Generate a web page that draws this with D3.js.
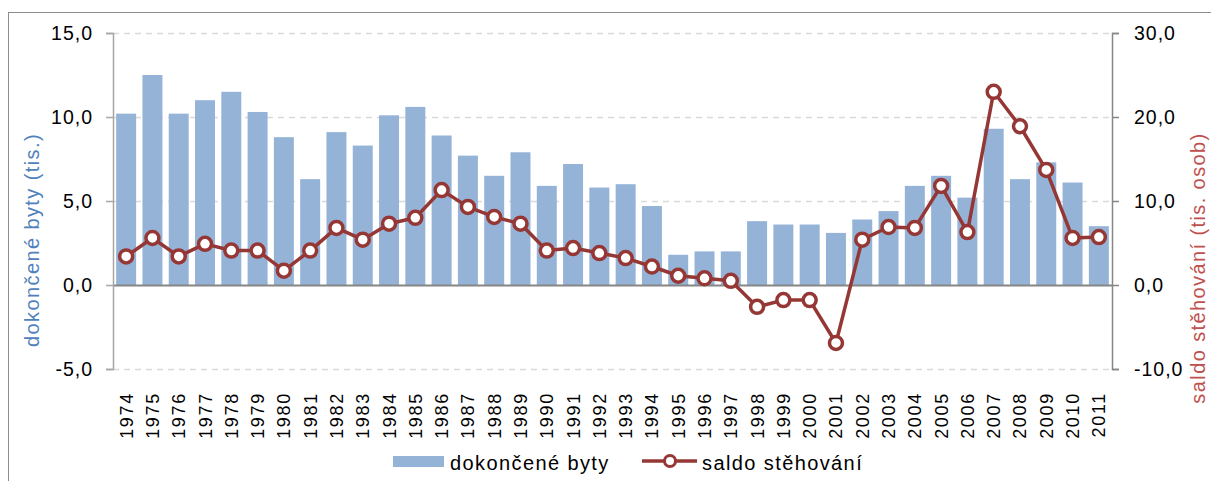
<!DOCTYPE html>
<html>
<head>
<meta charset="utf-8">
<script src="https://cdn.jsdelivr.net/npm/d3@7"></script>
<style>
  body { margin: 0; background: #fff; }
  svg { display: block; font-family: "Liberation Sans", Arial, sans-serif; }
</style>
</head>
<body>
<div id="chart"></div>
<script>
const years = d3.range(1974, 2012).map(String);
const dokonceneByty = [10.2, 12.5, 10.2, 11.0, 11.5, 10.3, 8.8, 6.3, 9.1, 8.3,
    10.1, 10.6, 8.9, 7.7, 6.5, 7.9, 5.9, 7.2, 5.8, 6.0,
    4.7, 1.8, 2.0, 2.0, 3.8, 3.6, 3.6, 3.1, 3.9, 4.4,
    5.9, 6.5, 5.2, 9.3, 6.3, 7.3, 6.1, 3.5];
const saldoStehovani = [3.4, 5.6, 3.4, 4.9, 4.1, 4.1, 1.7, 4.1, 6.8, 5.4,
    7.3, 8.0, 11.3, 9.3, 8.1, 7.3, 4.1, 4.4, 3.8, 3.2,
    2.2, 1.1, 0.8, 0.5, -2.6, -1.8, -1.8, -6.9, 5.4, 6.9,
    6.8, 11.8, 6.3, 23.0, 18.9, 13.7, 5.6, 5.7];
const leftTicks = [-5, 0, 5, 10, 15];
const rightTicks = [-10, 0, 10, 20, 30];

const width = 1211;
const height = 481;
const margin = { top: 33, bottom: 112, left: 113, right: 99 };
const fmt = v => d3.format('.1f')(v).replace('.', ',').replace('\u2212', '-');

const svg = d3.select('#chart')
    .append('svg')
    .attr('width', width)
    .attr('height', height);

// outer frame
svg.append('rect')
    .attr('x', 8.5).attr('y', 12.5)
    .attr('width', 1210).attr('height', 480)
    .attr('fill', 'none')
    .attr('stroke', '#8c8c8c');

const x = d3.scaleBand()
    .domain(years)
    .range([margin.left, width - margin.right])
    .paddingInner(0.24)
    .paddingOuter(0.12);

const y = d3.scaleLinear()
    .domain([-5, 15])
    .range([height - margin.bottom, margin.top]);

const y2 = d3.scaleLinear()
    .domain([-10, 30])
    .range([height - margin.bottom, margin.top]);

// gridlines
svg.append('g')
    .selectAll('line')
    .data(leftTicks.filter(d => d !== 0))
    .join('line')
    .attr('x1', margin.left)
    .attr('x2', width - margin.right)
    .attr('y1', d => Math.round(y(d)) + 0.5)
    .attr('y2', d => Math.round(y(d)) + 0.5)
    .attr('stroke', '#d9d9d9')
    .attr('stroke-width', 1.5)
    .attr('stroke-dasharray', '6,5');

// bars
svg.append('g')
    .attr('fill', '#95b3d7')
    .selectAll('rect')
    .data(dokonceneByty)
    .join('rect')
    .attr('x', (d, i) => x(years[i]))
    .attr('y', d => y(d))
    .attr('width', x.bandwidth())
    .attr('height', d => y(0) - y(d));

// zero line
svg.append('line')
    .attr('x1', margin.left)
    .attr('x2', width - margin.right)
    .attr('y1', Math.round(y(0)) + 0.5)
    .attr('y2', Math.round(y(0)) + 0.5)
    .attr('stroke', '#868686')
    .attr('stroke-width', 2);

// left axis
const yAxis = g => {
    g.attr('transform', `translate(${margin.left},0)`)
        .call(d3.axisLeft(y).tickValues(leftTicks).tickFormat(fmt).tickSize(7).tickPadding(13))
        .attr('font-size', '19.5px')
        .attr('font-family', '"Liberation Sans", Arial, sans-serif');
    g.selectAll('path, line').attr('stroke', '#a6a6a6').attr('stroke-width', 1.5);
    g.selectAll('text').attr('fill', '#000').attr('letter-spacing', '1px');
};
svg.append('g').call(yAxis);

// right axis
const y2Axis = g => {
    g.attr('transform', `translate(${width - margin.right},0)`)
        .call(d3.axisRight(y2).tickValues(rightTicks).tickFormat(fmt).tickSize(7).tickPadding(15))
        .attr('font-size', '19.5px')
        .attr('font-family', '"Liberation Sans", Arial, sans-serif');
    g.selectAll('path, line').attr('stroke', '#868686').attr('stroke-width', 1.5);
    g.selectAll('text').attr('fill', '#000').attr('letter-spacing', '1px');
};
svg.append('g').call(y2Axis);

// x labels
svg.append('g')
    .selectAll('text')
    .data(years)
    .join('text')
    .attr('transform', d => `translate(${x(d) + x.bandwidth() / 2 + 6.5},392) rotate(-90)`)
    .attr('text-anchor', 'end')
    .attr('font-size', '18px')
    .attr('letter-spacing', '1.7px')
    .attr('fill', '#000')
    .text(d => d);

// line series
const line = d3.line()
    .x((d, i) => x(years[i]) + x.bandwidth() / 2)
    .y(d => y2(d));

svg.append('path')
    .datum(saldoStehovani)
    .attr('d', line)
    .attr('fill', 'none')
    .attr('stroke', '#953735')
    .attr('stroke-width', 3.5)
    .attr('stroke-linejoin', 'round');

svg.append('g')
    .selectAll('circle')
    .data(saldoStehovani)
    .join('circle')
    .attr('cx', (d, i) => x(years[i]) + x.bandwidth() / 2)
    .attr('cy', d => y2(d))
    .attr('r', 6.5)
    .attr('fill', '#fff')
    .attr('stroke', '#953735')
    .attr('stroke-width', 3.5);

// axis titles
svg.append('text')
    .attr('transform', 'translate(39,240) rotate(-90)')
    .attr('text-anchor', 'middle')
    .attr('font-size', '20px')
    .attr('letter-spacing', '1.4px')
    .attr('fill', '#4f81bd')
    .text('dokončené byty (tis.)');

svg.append('text')
    .attr('transform', 'translate(1205,268) rotate(-90)')
    .attr('text-anchor', 'middle')
    .attr('font-size', '20px')
    .attr('letter-spacing', '1.4px')
    .attr('fill', '#c0504d')
    .text('saldo stěhování (tis. osob)');

// legend
const legend = svg.append('g').attr('font-size', '20px').attr('letter-spacing', '1.4px').attr('fill', '#000');
legend.append('rect')
    .attr('x', 393).attr('y', 456)
    .attr('width', 51).attr('height', 11)
    .attr('fill', '#95b3d7');
legend.append('text')
    .attr('x', 450).attr('y', 470)
    .text('dokončené byty');
legend.append('line')
    .attr('x1', 642).attr('x2', 697)
    .attr('y1', 461).attr('y2', 461)
    .attr('stroke', '#953735')
    .attr('stroke-width', 3.5);
legend.append('circle')
    .attr('cx', 670).attr('cy', 461)
    .attr('r', 5.5)
    .attr('fill', '#fff')
    .attr('stroke', '#953735')
    .attr('stroke-width', 3);
legend.append('text')
    .attr('x', 702).attr('y', 470)
    .text('saldo stěhování');
</script>
</body>
</html>
